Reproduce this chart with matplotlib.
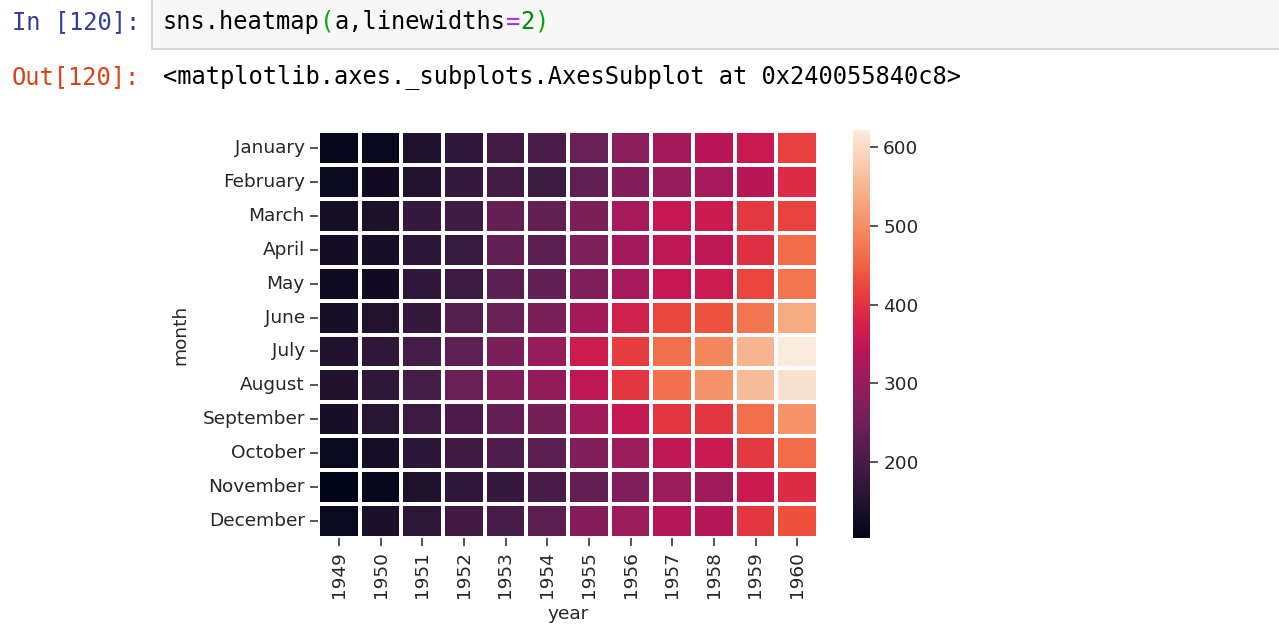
import numpy as np
import pandas as pd
import matplotlib.pyplot as plt
import seaborn as sns

plt.rcParams["font.family"] = ["DejaVu Sans"]

# flights data (passengers per month)
months = ["January", "February", "March", "April", "May", "June", "July",
          "August", "September", "October", "November", "December"]
years = [1949, 1950, 1951, 1952, 1953, 1954, 1955, 1956, 1957, 1958, 1959, 1960]
p1949 = [112, 118, 132, 129, 121, 135, 148, 148, 136, 119, 104, 118]
p1950 = [115, 126, 141, 135, 125, 149, 170, 170, 158, 133, 114, 140]
p1951 = [145, 150, 178, 163, 172, 178, 199, 199, 184, 162, 146, 166]
p1952 = [171, 180, 193, 181, 183, 218, 230, 242, 209, 191, 172, 194]
p1953 = [196, 196, 236, 235, 229, 243, 264, 272, 237, 211, 180, 201]
p1954 = [204, 188, 235, 227, 234, 264, 302, 293, 259, 229, 203, 229]
p1955 = [242, 233, 267, 269, 270, 315, 364, 347, 312, 274, 237, 278]
p1956 = [284, 277, 317, 313, 318, 374, 413, 405, 355, 306, 271, 306]
p1957 = [315, 301, 356, 348, 355, 422, 465, 467, 404, 347, 305, 336]
p1958 = [340, 318, 362, 348, 363, 435, 491, 505, 404, 359, 310, 337]
p1959 = [360, 342, 406, 396, 420, 472, 548, 559, 463, 407, 362, 405]
p1960 = [417, 391, 419, 461, 472, 535, 622, 606, 508, 461, 390, 432]

a = pd.DataFrame(np.array([p1949, p1950, p1951, p1952, p1953, p1954,
                           p1955, p1956, p1957, p1958, p1959, p1960]).T,
                 index=pd.Index(months, name="month"),
                 columns=pd.Index(years, name="year"))

W, H = 1279, 634
fig = plt.figure(figsize=(W / 100, H / 100), dpi=100)
fig.patch.set_facecolor("white")

def fx(px):
    return px / W

def fy(py):
    return 1 - py / H

# notebook cell chrome
box = fig.add_axes([fx(152), fy(49), 1 - fx(152) + 0.01, fy(-10) - fy(49)])
box.set_xlim(0, 1)
box.set_ylim(0, 1)
box.axis("off")
box.add_patch(plt.Rectangle((0, 0), 1.2, 1.2, facecolor="#f7f7f7",
                            edgecolor="#cfcfcf", linewidth=1.2,
                            transform=box.transAxes, clip_on=False))

mono = "DejaVu Sans Mono"
cw = 14.3                        # char width in px
fs_code = cw / 0.602 * 72 / 100  # matching point size

fig.text(fx(12), fy(22), "In [120]:", family=mono, fontsize=fs_code,
         color="#303F9F", va="center")
fig.text(fx(12), fy(77), "Out[120]:", family=mono, fontsize=fs_code,
         color="#D84315", va="center")

code_parts = [("sns.heatmap", "#000000"), ("(", "#00aa00"), ("a,linewidths", "#000000"),
              ("=", "#AA22FF"), ("2", "#008800"), (")", "#00aa00")]
pos = 0
for txt, col in code_parts:
    fig.text(fx(163 + pos * cw), fy(22), txt, family=mono, fontsize=fs_code,
             color=col, va="center")
    pos += len(txt)

fig.text(fx(163), fy(77), "<matplotlib.axes._subplots.AxesSubplot at 0x240055840c8>",
         family=mono, fontsize=fs_code, color="#000000", va="center")

# heatmap
ax = fig.add_axes([fx(318), fy(538), fx(818) - fx(318), fy(131) - fy(538)])
cax = fig.add_axes([fx(853), fy(537.6), fx(870) - fx(853), fy(130) - fy(537.6)])

sns.heatmap(a, linewidths=2.7, ax=ax, cbar_ax=cax)

fs = 13.3
tc = "#262626"
ax.tick_params(labelsize=fs, colors=tc, length=6, width=1.1)
ax.set_yticklabels(months, rotation=0)
ax.set_xticklabels([str(y) for y in years], rotation=90)
ax.set_xlabel("year", fontsize=fs, color=tc, labelpad=5)
ax.set_ylabel("month", fontsize=fs, color=tc, labelpad=9)
cax.tick_params(labelsize=fs, colors=tc, length=6, width=1.1)
cax.set_yticks([200, 300, 400, 500, 600])

fig.savefig("out.png", dpi=100)
